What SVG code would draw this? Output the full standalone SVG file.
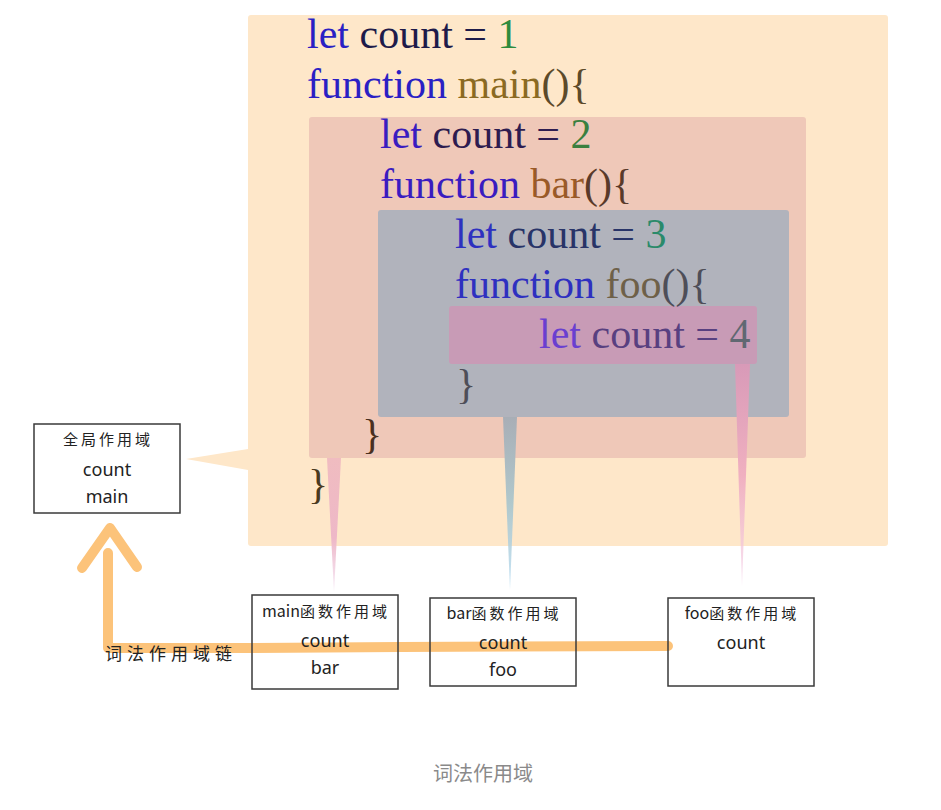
<svg xmlns="http://www.w3.org/2000/svg" width="941" height="810" viewBox="0 0 941 810">
<defs>
<linearGradient id="gRed" x1="0" y1="0" x2="0" y2="1"><stop offset="0" stop-color="#f0bcc0"/><stop offset="0.6" stop-color="#eeb8c8"/><stop offset="1" stop-color="#f0d8ec" stop-opacity="0.6"/></linearGradient>
<linearGradient id="gGray" x1="0" y1="0" x2="0" y2="1"><stop offset="0" stop-color="#a8aeb6"/><stop offset="0.5" stop-color="#b0c8cc"/><stop offset="1" stop-color="#b0d8f0" stop-opacity="0.7"/></linearGradient>
<linearGradient id="gPink" x1="0" y1="0" x2="0" y2="1"><stop offset="0" stop-color="#d89ab8"/><stop offset="0.5" stop-color="#f0b0c0"/><stop offset="1" stop-color="#f4d0e8" stop-opacity="0.6"/></linearGradient>
</defs>
<style>
.code{font-family:"Liberation Serif","Times New Roman",serif;font-size:42px}
.box{fill:none;stroke:#3a3a3a;stroke-width:1.5}
.lbl{font-family:"Noto Sans CJK SC","Noto Sans",sans-serif;font-size:15px;fill:#222;text-anchor:middle}
.cj{letter-spacing:3px}
.la{letter-spacing:0px;font-size:16px}
.v{font-family:"Noto Sans","Noto Sans CJK SC",sans-serif;font-size:18px;fill:#222;text-anchor:middle}
.chain{fill:none;stroke:#fcc37a;stroke-width:10;stroke-linecap:round;stroke-linejoin:round}
</style>
<rect width="941" height="810" fill="#ffffff"/>
<g id="scope-global">
<rect x="248" y="15" width="640" height="531" rx="3" fill="#fee7c9"/>
<polygon points="248,449 186,459 248,470" fill="#fee7c9"/>
</g>
<g id="scope-main">
<rect x="309" y="117" width="497" height="341" rx="3" fill="#efc8b8"/>
</g>
<g id="scope-bar">
<rect x="378" y="210" width="411" height="207" rx="3" fill="#b1b3bc"/>
</g>
<g id="scope-foo">
<rect x="449" y="306" width="308" height="58" rx="3" fill="#c89bb6"/>
</g>
<g id="connectors">
<polygon points="327,458 341,458 334,592" fill="url(#gRed)"/>
<polygon points="503,417 517,417 510,590" fill="url(#gGray)"/>
<polygon points="735,364 750,364 742,586" fill="url(#gPink)"/>
<path class="chain" d="M668,646 L400,647 L250,648 L108,648 L108,553"/>
<path class="chain" d="M82,568 L110,528 L137,567"/>
</g>
<g id="code">
<text class="code" x="307" y="48"><tspan fill="#2b1fc4">let</tspan><tspan fill="#1e1b4a"> count = </tspan><tspan fill="#2e8b3e">1</tspan></text>
<text class="code" x="307" y="98"><tspan fill="#2b1fc4">function</tspan><tspan fill="#8b6a22"> main</tspan><tspan fill="#5c4a2a">(){</tspan></text>
<text class="code" x="380" y="148"><tspan fill="#3a1cc0">let</tspan><tspan fill="#2e1c50"> count = </tspan><tspan fill="#3a8040">2</tspan></text>
<text class="code" x="380" y="198"><tspan fill="#3a1cc0">function</tspan><tspan fill="#9a5a28"> bar</tspan><tspan fill="#5a3a2a">(){</tspan></text>
<text class="code" x="455" y="248"><tspan fill="#2e30c0">let</tspan><tspan fill="#283468"> count = </tspan><tspan fill="#2a8a6a">3</tspan></text>
<text class="code" x="455" y="298"><tspan fill="#2e30c0">function</tspan><tspan fill="#6e6048"> foo</tspan><tspan fill="#4e4e58">(){</tspan></text>
<text class="code" x="539" y="348"><tspan fill="#6a3fd0">let</tspan><tspan fill="#584080"> count = </tspan><tspan fill="#606872">4</tspan></text>
<text class="code" x="456" y="398" fill="#4e4e58">}</text>
<text class="code" x="362" y="448" fill="#4a3020">}</text>
<text class="code" x="308" y="498" fill="#4a3a20">}</text>
</g>
<g id="node-global">
<rect class="box" x="34" y="424" width="146" height="89"/>
<text class="lbl cj" x="108" y="445">全局作用域</text>
<text class="v" x="107" y="476">count</text>
<text class="v" x="107" y="503">main</text>
</g>
<g id="node-main">
<rect class="box" x="252" y="595" width="146" height="94"/>
<text class="lbl" x="326" y="617"><tspan class="la">main</tspan><tspan class="cj">函数作用域</tspan></text>
<text class="v" x="325" y="647">count</text>
<text class="v" x="325" y="674">bar</text>
</g>
<g id="node-bar">
<rect class="box" x="430" y="598" width="146" height="88"/>
<text class="lbl" x="504" y="619"><tspan class="la">bar</tspan><tspan class="cj">函数作用域</tspan></text>
<text class="v" x="503" y="649">count</text>
<text class="v" x="503" y="676">foo</text>
</g>
<g id="node-foo">
<rect class="box" x="668" y="598" width="146" height="88"/>
<text class="lbl" x="742" y="619"><tspan class="la">foo</tspan><tspan class="cj">函数作用域</tspan></text>
<text class="v" x="741" y="649">count</text>
</g>
<text x="171" y="660" font-family="Noto Sans CJK SC, sans-serif" font-size="17" fill="#222" text-anchor="middle" letter-spacing="5">词法作用域链</text>
<text x="483" y="781" font-family="Noto Sans CJK SC, sans-serif" font-size="20" fill="#8a8a8a" text-anchor="middle">词法作用域</text>
</svg>
